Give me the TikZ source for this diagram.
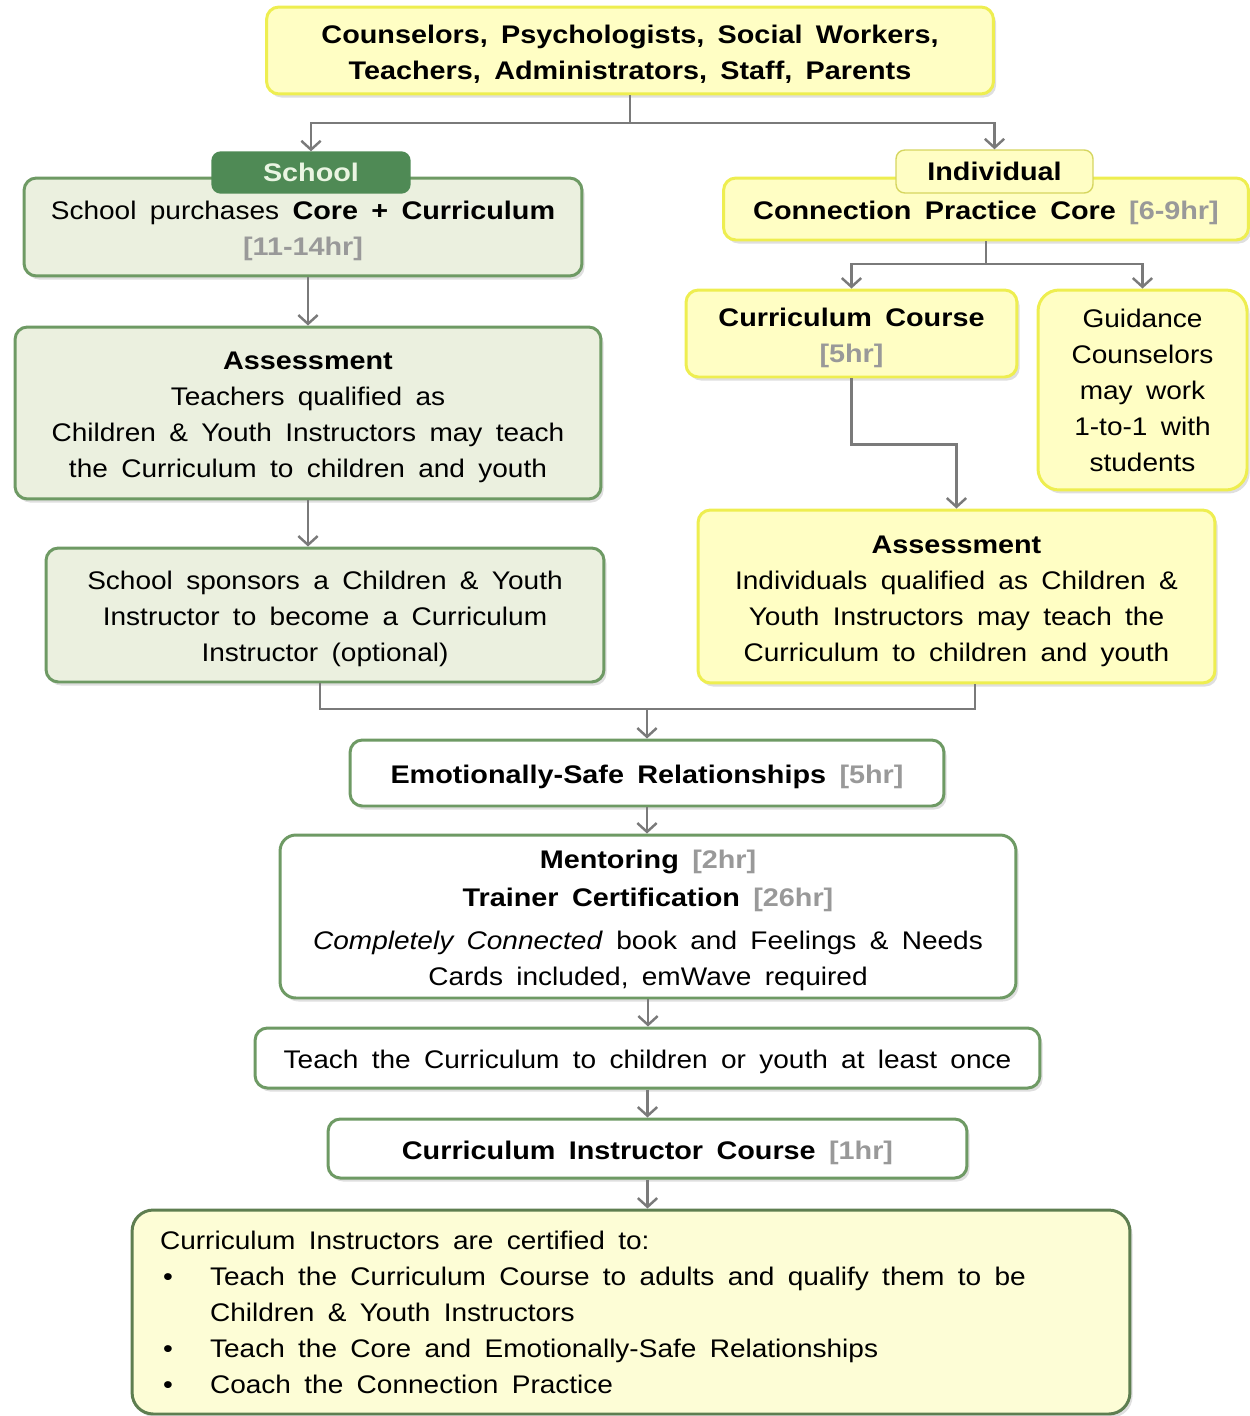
\documentclass[tikz,border=0pt]{standalone}
\usepackage{fontspec}
\setmainfont{Liberation Sans}[FakeStretch=1.1, BoldFeatures={FakeStretch=1.13}]
\usepackage{tikz}
\usetikzlibrary{positioning}
\usetikzlibrary{arrows.meta}
\usetikzlibrary{shadows}

\definecolor{boxgreen}{HTML}{6E9A64}
\definecolor{tabgreen}{HTML}{4F8A55}
\definecolor{tabtext}{HTML}{EAF5E2}
\definecolor{greenfill}{HTML}{EBF0DF}
\definecolor{boxyellow}{HTML}{EEEE50}
\definecolor{tabyellow}{HTML}{D6D660}
\definecolor{yellowfill}{HTML}{FFFEC4}
\definecolor{certfill}{HTML}{FDFDD6}
\definecolor{certgreen}{HTML}{5E7E50}
\definecolor{linegray}{HTML}{7A7A7A}
\definecolor{hourgray}{HTML}{999999}

\newcommand{\hours}[1]{\textcolor{hourgray}{\textbf{#1}}}
\newcommand{\lift}{\rule{0pt}{15pt}}
\newcommand{\wide}{\spaceskip=7.6pt plus 1pt minus 1pt\relax}
\newcommand{\boxfont}{\fontsize{14.5}{20.5}\selectfont\wide}

\tikzset{
    box/.style={draw, rounded corners=7pt, line width=1.7pt, align=center, inner sep=0pt,
        font=\boxfont,
        drop shadow={opacity=0.25, shadow xshift=1.5pt, shadow yshift=-2pt}},
    greenbox/.style={box, draw=boxgreen, fill=greenfill},
    yellowbox/.style={box, draw=boxyellow, fill=yellowfill},
    whitebox/.style={box, draw=boxgreen, fill=white},
    tab/.style={draw, rounded corners=5pt, line width=0.8pt, inner sep=0pt,
        font=\boxfont\bfseries},
    link/.style={draw=linegray, line width=1.4pt, -{Straight Barb[length=5pt, width=11pt, line width=1.4pt]}},
    joint/.style={draw=linegray, line width=1.4pt},
}

\begin{document}
\begin{tikzpicture}[x=0.02cm, y=-0.02cm]
    \useasboundingbox (0,0) rectangle (1249,1416);

    \node[yellowbox, font=\boxfont\bfseries,
        minimum width=14.54cm, minimum height=1.74cm] (top) at (630,50.5)
        {\lift Counselors, Psychologists, Social Workers,\\Teachers, Administrators, Staff, Parents};

    \node[greenbox, minimum width=11.16cm, minimum height=1.96cm] (schoolbox) at (303,227)
        {\lift School purchases \textbf{Core + Curriculum}\\\hours{[11-14hr]}};
    \node[tab, draw=tabgreen, fill=tabgreen, text=tabtext,
        minimum width=3.96cm, minimum height=0.82cm] (schooltab) at (311,172.5) {School};

    \node[greenbox, minimum width=11.72cm, minimum height=3.44cm] (assessL) at (308,413)
        {\lift\textbf{Assessment}\\Teachers qualified as\\Children \& Youth Instructors may teach\\the Curriculum to children and youth};

    \node[greenbox, minimum width=11.16cm, minimum height=2.68cm] (sponsor) at (325,615)
        {\lift School sponsors a Children \& Youth\\Instructor to become a Curriculum\\Instructor (optional)};

    \node[yellowbox, minimum width=10.5cm, minimum height=1.24cm] (corebox) at (986,209)
        {\lift\textbf{Connection Practice Core} \hours{[6-9hr]}};
    \node[tab, draw=tabyellow, fill=yellowfill,
        minimum width=3.94cm, minimum height=0.86cm] (indivtab) at (994.5,171.5) {Individual};

    \node[yellowbox, minimum width=6.62cm, minimum height=1.74cm] (ccourse) at (851.5,333.5)
        {\lift\textbf{Curriculum Course}\\\hours{[5hr]}};

    \node[yellowbox, rounded corners=12pt, minimum width=4.18cm, minimum height=4cm] (guidance) at (1142.5,390)
        {Guidance\\Counselors\\may work\\1-to-1 with\\students};

    \node[yellowbox, minimum width=10.34cm, minimum height=3.46cm] (assessR) at (956.5,596.5)
        {\lift\textbf{Assessment}\\Individuals qualified as Children \&\\Youth Instructors may teach the\\Curriculum to children and youth};

    \node[whitebox, minimum width=11.88cm, minimum height=1.32cm] (esr) at (647,773)
        {\lift\textbf{Emotionally-Safe Relationships} \hours{[5hr]}};

    \node[whitebox, rounded corners=9pt, minimum width=14.72cm, minimum height=3.26cm] (mentor) at (648,916.5)
        {\lift\textbf{Mentoring} \hours{[2hr]}\\[1pt]\textbf{Trainer Certification} \hours{[26hr]}\\[4pt]
        \textit{Completely Connected} book and Feelings \& Needs\\Cards included, emWave required};

    \node[whitebox, minimum width=15.7cm, minimum height=1.2cm] (teach) at (647.5,1058)
        {\lift Teach the Curriculum to children or youth at least once};

    \node[whitebox, minimum width=12.78cm, minimum height=1.18cm] (cic) at (647.5,1148.5)
        {\lift\textbf{Curriculum Instructor Course} \hours{[1hr]}};

    \node[box, draw=certgreen, fill=certfill, rounded corners=12pt, align=left, inner xsep=0.56cm,
        text width=18.84cm, minimum height=4.08cm] (certbox) at (631,1312)
        {\wide Curriculum Instructors are certified to:\\
        \hspace*{0.06cm}\makebox[0.94cm][l]{\textbullet}Teach the Curriculum Course to adults and qualify them to be\\
        \hspace*{1cm}Children \& Youth Instructors\\
        \hspace*{0.06cm}\makebox[0.94cm][l]{\textbullet}Teach the Core and Emotionally-Safe Relationships\\
        \hspace*{0.06cm}\makebox[0.94cm][l]{\textbullet}Coach the Connection Practice};

    \coordinate (split1) at (630,123);
    \draw[joint] (top.south) -- (split1);
    \draw[link] (split1) -| (schooltab.north);
    \draw[link] (split1) -| (indivtab.north);

    \draw[link] (assessL.north |- schoolbox.south) -- (assessL.north);
    \draw[link] (assessL.south) -- (assessL.south |- sponsor.north);

    \coordinate (split2) at (986,264);
    \draw[joint] (corebox.south) -- (split2);
    \draw[link] (split2) -| (ccourse.north);
    \draw[link] (split2) -| (guidance.north);

    \draw[link] (ccourse.south) -- ++(0,66) -| (assessR.north);

    \coordinate (merge) at (647,709);
    \draw[joint] ([xshift=-0.1cm]sponsor.south) |- (merge) -| ([xshift=0.37cm]assessR.south);
    \draw[link] (merge) -- (esr.north);

    \draw[link] (esr.south) -- (esr.south |- mentor.north);
    \draw[link] (mentor.south) -- (mentor.south |- teach.north);
    \draw[link] (teach.south) -- (teach.south |- cic.north);
    \draw[link] (cic.south) -- (cic.south |- certbox.north);
\end{tikzpicture}
\end{document}
